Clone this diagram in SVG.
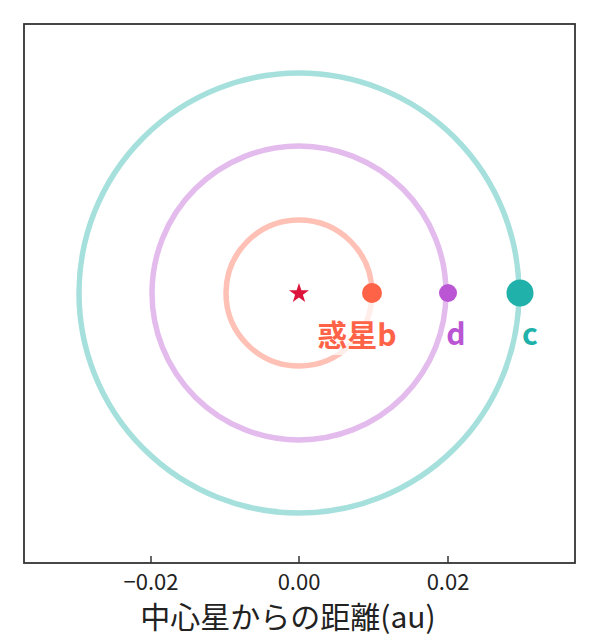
<svg xmlns="http://www.w3.org/2000/svg" width="597" height="640" viewBox="0 0 597 640">
<style>
.orbit{fill:none;stroke-width:5.5}
.tick{stroke:#333;stroke-width:1.5}
.ticklbl{font-family:"Noto Sans CJK JP","Noto Sans",sans-serif;font-size:22px;fill:#222;text-anchor:middle}
.axlbl{font-family:"Noto Sans CJK JP","Noto Sans",sans-serif;font-size:30px;fill:#222;text-anchor:middle}
.plbl{font-family:"Noto Sans CJK JP","Noto Sans",sans-serif;font-size:30px;font-weight:bold}
</style>
<rect x="0" y="0" width="597" height="640" fill="#fff"/>
<g id="orbits">
<circle id="orbit-c" class="orbit" cx="299" cy="293" r="220" stroke="#A6E0DD"/>
<circle id="orbit-d" class="orbit" cx="299" cy="293" r="147" stroke="#E3BBED"/>
<circle id="orbit-b" class="orbit" cx="299" cy="293" r="73" stroke="#FFC1B5"/>
</g>
<g id="star"><polygon points="299,283 301.4,290.2 309,290.3 302.9,294.8 305.2,302 299,297.6 292.8,302 295.1,294.8 289,290.3 296.6,290.2" fill="#DC143C"/></g>
<g id="planet-b"><rect x="313" y="303" width="88" height="52" fill="#fff" fill-opacity="0.7"/><circle cx="372" cy="293" r="10" fill="#FF6347"/><text class="plbl" x="357" y="346" text-anchor="middle" fill="#FF6347">惑星b</text></g>
<g id="planet-d"><circle cx="448" cy="293" r="9" fill="#BA55D3"/><text class="plbl" x="456" y="345" text-anchor="middle" fill="#BA55D3">d</text></g>
<g id="planet-c"><circle cx="520" cy="293" r="13.5" fill="#20B2AA"/><text class="plbl" x="530" y="345" text-anchor="middle" fill="#20B2AA">c</text></g>
<g id="axes">
<rect x="24" y="24" width="551" height="539" fill="none" stroke="#333" stroke-width="1.8"/>
<line class="tick" x1="151" y1="563" x2="151" y2="556"/>
<line class="tick" x1="299" y1="563" x2="299" y2="556"/>
<line class="tick" x1="448" y1="563" x2="448" y2="556"/>
<text class="ticklbl" x="151" y="590">−0.02</text>
<text class="ticklbl" x="299" y="590">0.00</text>
<text class="ticklbl" x="448" y="590">0.02</text>
<text class="axlbl" x="288" y="628">中心星からの距離(au)</text>
</g>
</svg>
